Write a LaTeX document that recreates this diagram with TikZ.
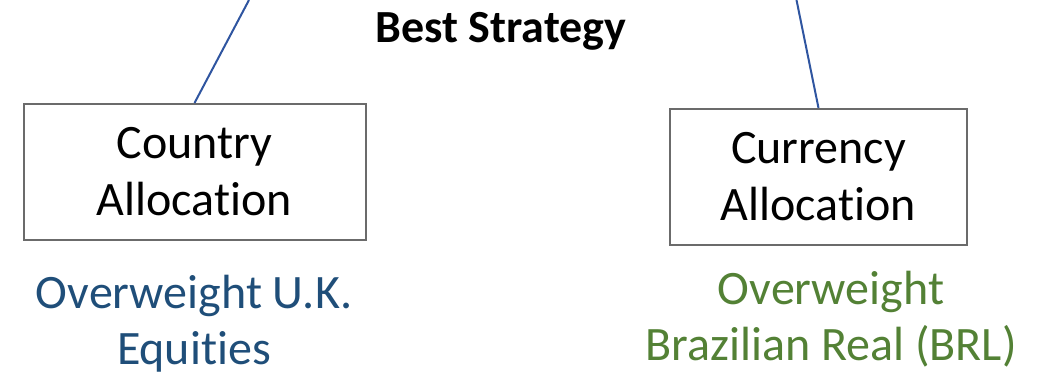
\documentclass[tikz,border=0pt]{standalone}
\usepackage{fontspec}
\setmainfont{Carlito}[Ligatures={NoRequired,NoCommon,NoContextual}]
% keep "t" and "i" as separate glyphs
\newcommand{\nolig}{\kern0pt{}}
\definecolor{linkblue}{RGB}{47,85,160}
\definecolor{boxgray}{RGB}{107,107,107}
\definecolor{notblue}{RGB}{31,78,121}
\definecolor{notgreen}{RGB}{83,129,53}
\begin{document}
\begin{tikzpicture}[x=1pt,y=-1pt,
  allocbox/.style={draw=boxgray,line width=2pt,inner sep=0pt,minimum height=136pt,
    align=center,font=\fontsize{48}{57}\selectfont},
  note/.style={inner sep=0pt,align=center,font=\fontsize{48}{56}\selectfont},
  link/.style={draw=linkblue,line width=2pt}]
\useasboundingbox (0,0) rectangle (1048,373);
\node[font=\bfseries\fontsize{46}{52}\selectfont,anchor=base] (title) at (501,42) {Best Strategy};
\node[allocbox,minimum width=342pt] (country) at (194.5,172) {Country\\Allocat\nolig ion};
\node[allocbox,minimum width=297pt] (currency) at (818.5,177) {Currency\\Allocat\nolig ion};
\node[note,text=notblue] (uk) at (194,324) {Overweight U.K.\\Equit\nolig ies};
\node[note,text=notgreen] (brl) at (831,319) {Overweight\\Brazilian Real (BRL)};
\coordinate (ltop) at (249,0);
\coordinate (rtop) at (796.5,0);
\draw[link] (country.north) -- (ltop);
\draw[link] (currency.north) -- (rtop);
\end{tikzpicture}
\end{document}
